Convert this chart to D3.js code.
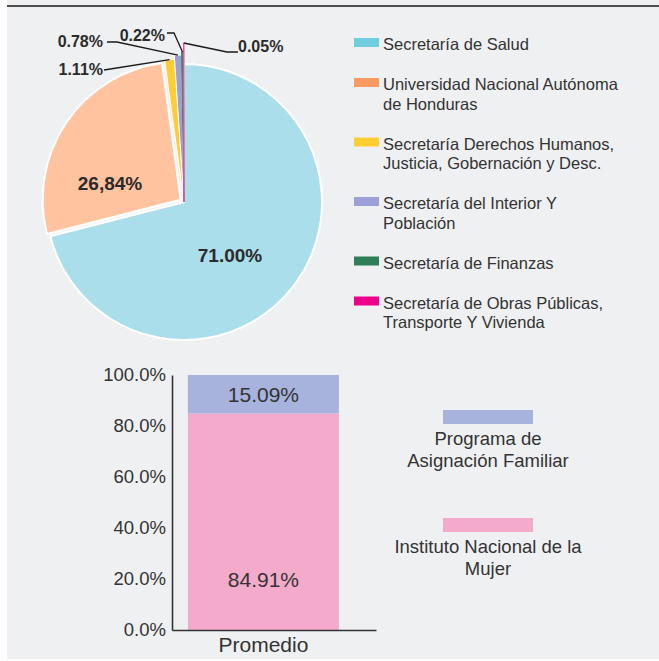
<!DOCTYPE html>
<html>
<head>
<meta charset="utf-8">
<script src="https://cdn.jsdelivr.net/npm/d3@7"></script>
<style>
  html, body { margin: 0; padding: 0; background: #ffffff; }
  svg { display: block; font-family: "Liberation Sans", Arial, sans-serif; }
</style>
</head>
<body>
<svg id="chart" width="659" height="661"></svg>
<script>
// ---------------- DATA ----------------
const pieCategories = [
  "Secretaría de Salud",
  "Universidad Nacional Autónoma de Honduras",
  "Secretaría Derechos Humanos, Justicia, Gobernación y Desc.",
  "Secretaría del Interior Y Población",
  "Secretaría de Finanzas",
  "Secretaría de Obras Públicas, Transporte Y Vivienda"
];
const pieLegendLines = [
  ["Secretaría de Salud"],
  ["Universidad Nacional Autónoma", "de Honduras"],
  ["Secretaría Derechos Humanos,", "Justicia, Gobernación y Desc."],
  ["Secretaría del Interior Y", "Población"],
  ["Secretaría de Finanzas"],
  ["Secretaría de Obras Públicas,", "Transporte Y Vivienda"]
];
const pieValues = [71.00, 26.84, 1.11, 0.78, 0.22, 0.05];
const pieLabels = ["71.00%", "26,84%", "1.11%", "0.78%", "0.22%", "0.05%"];

const barCategories = ["Promedio"];
const barSeries = ["Instituto Nacional de la Mujer", "Programa de Asignación Familiar"];
const barValues = {
  "Instituto Nacional de la Mujer": [0.8491],
  "Programa de Asignación Familiar": [0.1509]
};
const barLabels = { "Instituto Nacional de la Mujer": ["84.91%"], "Programa de Asignación Familiar": ["15.09%"] };
const barLegendOrder = ["Programa de Asignación Familiar", "Instituto Nacional de la Mujer"];
const barLegendLines = {
  "Programa de Asignación Familiar": ["Programa de", "Asignación Familiar"],
  "Instituto Nacional de la Mujer": ["Instituto Nacional de la", "Mujer"]
};
const yTickValues = [0, 0.2, 0.4, 0.6, 0.8, 1.0];

// ---------------- STYLE ----------------
const pieFill = ["#aadeeb", "#ffc39f", "#ffcd33", "#9c9fd4", "#3c8a5e", "#ee4fa6"];
const legendFill = ["#70cde0", "#f99a63", "#ffce33", "#9ca0d6", "#2f8058", "#ec008c"];
const pieOuter = [138, 138, 143, 147, 150, 159];
const pieExplode = [0, 4, 0, 0, 0, 0];
const barFill = { "Instituto Nacional de la Mujer": "#f4aacb", "Programa de Asignación Familiar": "#a7b3dc" };
const textColor = "#2b2b2b";

const svg = d3.select("#chart");

// panel background
svg.append("rect").attr("x", 7).attr("y", 0).attr("width", 652).attr("height", 659).attr("fill", "#eff0f2");
svg.append("line").attr("x1", 7).attr("x2", 659).attr("y1", 6).attr("y2", 6)
  .attr("stroke", "#4d4d4d").attr("stroke-width", 2);

// ---------------- PIE ----------------
const cx = 184, cy = 202;
const pie = d3.pie().sort(null).startAngle(0).endAngle(2 * Math.PI).value(d => d);
const arcsData = pie(pieValues);
const gPie = svg.append("g").attr("transform", `translate(${cx},${cy})`);

arcsData.forEach((a, i) => {
  const arc = d3.arc().innerRadius(0).outerRadius(pieOuter[i]);
  const mid = (a.startAngle + a.endAngle) / 2;
  const off = pieExplode[i];
  const thin = i >= 4;
  gPie.append("path")
    .attr("d", arc(a))
    .attr("transform", `translate(${Math.sin(mid) * off},${-Math.cos(mid) * off})`)
    .attr("fill", pieFill[i])
    .attr("stroke", thin ? pieFill[i] : "#ffffff")
    .attr("stroke-width", thin ? 1 : (i >= 2 ? 1 : 2))
    .attr("stroke-linejoin", "round");
});

// big labels inside (offsets from pie centre)
const insideLabelPos = [[46, 53], [-74, -19]];
[0, 1].forEach(i => {
  gPie.append("text")
    .attr("x", insideLabelPos[i][0]).attr("y", insideLabelPos[i][1])
    .attr("dy", "0.36em")
    .attr("text-anchor", "middle")
    .attr("font-weight", "bold").attr("font-size", 19)
    .attr("fill", textColor)
    .text(pieLabels[i]);
});

// outside labels with leader lines (offsets from pie centre)
const outside = {
  2: { elbow: null, end: [-80, -132], text: [-81, -127], anchor: "end" },
  3: { elbow: [-67, -160], end: [-77, -160], text: [-81, -155], anchor: "end" },
  4: { elbow: [-10, -169], end: [-17, -169], text: [-19, -161], anchor: "end" },
  5: { elbow: [43, -150], end: [54, -150], text: [54, -150.5], anchor: "start" }
};
Object.keys(outside).forEach(k => {
  const i = +k, o = outside[k], a = arcsData[i];
  const mid = (a.startAngle + a.endAngle) / 2;
  const r = pieOuter[i];
  const start = [Math.sin(mid) * r, -Math.cos(mid) * r];
  const pts = [start];
  if (o.elbow) pts.push(o.elbow);
  pts.push(o.end);
  gPie.append("path")
    .attr("d", d3.line()(pts))
    .attr("fill", "none").attr("stroke", "#1a1a1a").attr("stroke-width", 1.3);
  gPie.append("text")
    .attr("x", o.text[0]).attr("y", o.text[1])
    .attr("text-anchor", o.anchor)
    .attr("font-weight", "bold").attr("font-size", 16)
    .attr("fill", textColor)
    .text(pieLabels[i]);
});

// pie legend
const gLeg = svg.append("g");
let ly = 38;
pieCategories.forEach((c, i) => {
  gLeg.append("rect").attr("x", 354).attr("y", ly).attr("width", 25).attr("height", 9).attr("fill", legendFill[i]);
  pieLegendLines[i].forEach((line, j) => {
    gLeg.append("text").attr("x", 383).attr("y", ly + 12 + j * 19.5)
      .attr("font-size", 16.5).attr("fill", "#333333").text(line);
  });
  ly += 20.5 + 19.5 * pieLegendLines[i].length;
});

// ---------------- STACKED BAR ----------------
const y = d3.scaleLinear().domain([0, 1]).range([630, 375]);
const x = d3.scaleBand().domain(barCategories).range([172, 376]).paddingInner(0).paddingOuter(0.1755).align(0.3);

const stackInput = barCategories.map((c, ci) => {
  const o = { cat: c };
  barSeries.forEach(s => o[s] = barValues[s][ci]);
  return o;
});
const stacked = d3.stack().keys(barSeries)(stackInput);

const gBar = svg.append("g");
stacked.forEach(layer => {
  layer.forEach(d => {
    gBar.append("rect")
      .attr("x", x(d.data.cat)).attr("width", x.bandwidth())
      .attr("y", y(d[1])).attr("height", y(d[0]) - y(d[1]))
      .attr("fill", barFill[layer.key]);
  });
});
// segment labels
stacked.forEach(layer => {
  layer.forEach((d, ci) => {
    const isBottom = layer.index === 0;
    const ypos = isBottom ? y(d[0] + 0.2) : y((d[0] + d[1]) / 2);
    gBar.append("text")
      .attr("x", x(d.data.cat) + x.bandwidth() / 2)
      .attr("y", ypos).attr("dy", "0.36em")
      .attr("text-anchor", "middle").attr("font-size", 21)
      .attr("fill", "#333333")
      .text(barLabels[layer.key][ci]);
  });
});

// axes
const yAxis = svg.append("g").attr("transform", "translate(172,0)")
  .call(d3.axisLeft(y).tickValues(yTickValues).tickFormat(d3.format(".1%")).tickSize(0).tickPadding(6));
yAxis.select(".domain").attr("stroke", "#333333").attr("stroke-width", 1.6);
yAxis.selectAll("text").attr("font-size", 18.5).attr("fill", "#333333").attr("font-family", "Liberation Sans, Arial, sans-serif");

const xAxis = svg.append("g").attr("transform", "translate(0,630)")
  .call(d3.axisBottom(x).tickSize(0).tickPadding(7));
xAxis.select(".domain").attr("stroke", "#333333").attr("stroke-width", 1.6);
xAxis.selectAll("text").attr("font-size", 21).attr("fill", "#333333").attr("font-family", "Liberation Sans, Arial, sans-serif");

// bar legend
const gBL = svg.append("g");
barLegendOrder.forEach((s, i) => {
  const top = 410 + i * 108;
  gBL.append("rect").attr("x", 443).attr("y", top).attr("width", 90).attr("height", 14).attr("fill", barFill[s]);
  barLegendLines[s].forEach((line, j) => {
    gBL.append("text").attr("x", 488).attr("y", top + 34.5 + j * 22)
      .attr("text-anchor", "middle").attr("font-size", 18.5).attr("fill", "#333333").text(line);
  });
});
</script>
</body>
</html>
